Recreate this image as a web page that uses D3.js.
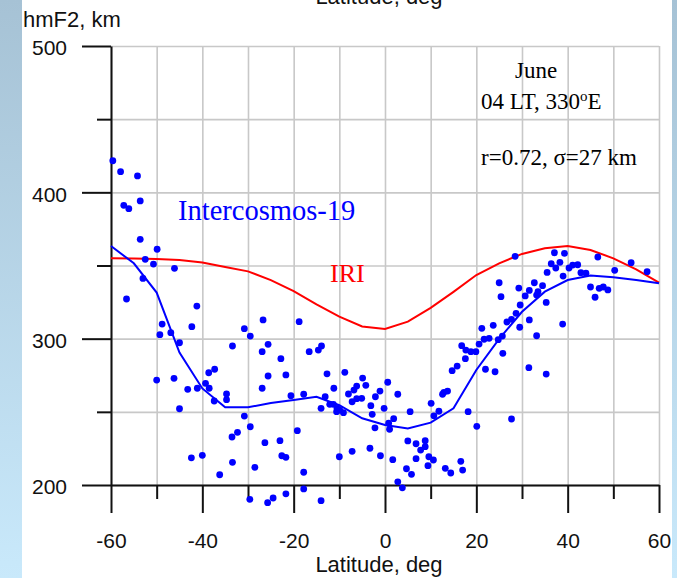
<!DOCTYPE html>
<html>
<head>
<meta charset="utf-8">
<script src="https://cdn.jsdelivr.net/npm/d3@7"></script>
<style>
  html, body { margin: 0; padding: 0; background: #fff; }
  svg { display: block; }
</style>
</head>
<body>
<svg id="chart" width="677" height="578"></svg>
<script>
// ---------- data ----------
const xTicks = [-60, -40, -20, 0, 20, 40, 60];
const xMinorTicks = [-50, -30, -10, 10, 30, 50];
const yTicks = [200, 300, 400, 500];
const yMinorTicks = [250, 350, 450];

const modelLat = [-60,-55,-50,-45,-40,-35,-30,-25,-20,-15,-10,-5,0,5,10,15,20,25,30,35,40,45,50,55,60];
const iriH = [355,354.8,354.5,353.8,352,349,346,340,332.5,323.5,315,308.3,306.6,311.6,321,332,343.5,351.5,357.9,361.8,363.3,360.6,354.9,347.4,338.3];
const ic19H = [363.3,351.5,331.5,290.5,266,253.1,253.1,256,258.1,260.3,254.5,245.6,241,238.7,242.6,252.4,278.6,299.8,318.4,332.1,340.1,343.1,342,340.1,337.8];

const obsLat = [-59.6,-57.9,-54.2,-57.2,-56.1,-53.6,-53.6,-49.9,-52.5,-50.7,-46.1,-53.0,-56.6,-41.2,-48.8,-42.3,-49.3,-46.9,-30.8,-29.5,-26.7,-18.8,
  -45.0,-33.4,-25.6,-26.9,-22.8,-50.0,-46.2,-38.6,-37.3,-39.3,-38.5,-41.1,-43.2,-37.4,-34.7,-34.7,-45.0,-25.6,-21.7,-26.9,-20.6,-30.8,-29.5,-33.5,-32.3,-26.3,-23.0,-19.2,-42.4,-40.0,-33.4,-36.2,-28.5,-22.6,-21.7,-29.6,-25.7,-24.5,-21.7,
  -16.6,-14.6,-13.9,-17.8,-12.7,-11.2,-13.1,-14.0,-12.1,-11.3,-10.5,-10.6,-9.9,-9.1,-8.8,-8.0,-6.8,-6.2,-4.9,-4.2,-7.2,-6.2,-5.1,-1.1,-2.1,-3.1,-2.8,-2.2,0.6,2.8,-0.2,0.8,1.9,1.0,5.5,10.1,11.8,10.7,5.0,6.8,7.8,8.8,8.8,6.8,9.6,10.6,9.4,13.2,14.4,16.6,17.0,18.2,20.1,-17.8,-17.8,-14.0,-10.0,-7.2,-3.3,-1.0,1.7,2.8,3.8,4.7,5.8,16.8,17.7,18.8,19.9,17.6,20.6,14.7,15.8,12.6,12.9,13.7,
  21.2,22.0,21.7,22.8,23.7,24.1,24.8,25.7,25.8,25.0,25.4,26.7,27.7,28.7,29.5,29.6,29.3,30.7,31.6,31.6,32.7,33.2,33.2,33.5,34.5,35.3,35.5,35.3,31.5,28.5,27.7,36.4,37.4,37.1,38.3,39.3,39.0,38.9,40.3,41.1,42.2,42.9,44.0,45.0,46.0,46.9,47.8,48.8,46.6,50.3,53.9,57.4];
const obsH = [421.6,414.1,411.2,391.1,388.8,394.1,367.9,361.1,354.2,351,348.1,341.2,327.1,322.3,310,308.2,302.7,304.1,306.8,301.8,312.8,311.6,
  297.2,295,296.1,291.1,286.3,271.7,272.9,276.7,279.1,269.5,266.1,266.1,265.4,257.4,262.2,258.3,252.1,274.5,275.2,266.1,261,247.1,239.8,232.8,236,228.9,230.3,237.1,218.6,220.3,215.5,207,212.1,220,218.9,190.2,187.9,191.1,194,
  291.1,292.2,295,262,276,266.1,260.3,252.4,255.1,255.1,252.4,250.1,251.2,249.4,277,262.2,264.9,267.6,273.1,268.1,256.9,259,259.2,264.2,260.3,254.2,248.3,239.1,270.2,262,252.4,242.2,245.3,238.1,250.1,255.8,250.4,247.3,230.1,228.2,223.9,230.3,226.2,218,219.3,217.1,213.2,211.4,208.2,216.2,210.2,250.1,240.1,208.7,197.3,189.3,219.3,223,225.1,220,217.3,202.2,198.1,211.1,207.3,295.2,292.2,291.1,291.1,286.3,296.3,278.1,281.3,262,263.3,264.2,
  307.1,279.1,299.6,300.2,309.1,277.4,299.3,301.8,290,338.2,328.7,311.4,313.2,317.3,307.8,323,334.6,329.2,312.8,333,338.2,302,329.8,332.1,336.2,324.8,345.3,275.8,280.2,356.3,245.1,351.2,348.3,358.7,352.2,358.3,342.8,310,348.3,350.3,350.5,345.1,344.7,335.3,328.3,334.4,335.3,333.3,355.8,346.7,351.9,345.8];

// ---------- drawing ----------
const W = 677, H = 578;
const svg = d3.select('#chart');

const defs = svg.append('defs');
const grad = defs.append('linearGradient').attr('id', 'bg').attr('x1', 0).attr('y1', 0).attr('x2', 0).attr('y2', 1);
grad.append('stop').attr('offset', '0%').attr('stop-color', '#a6c2d5');
grad.append('stop').attr('offset', '100%').attr('stop-color', '#c9e9fb');
svg.append('rect').attr('width', W).attr('height', H).attr('fill', 'url(#bg)');
svg.append('rect').attr('x', 22).attr('y', 0).attr('width', 650).attr('height', H).attr('fill', '#fff');

const x = d3.scaleLinear().domain([-60, 60]).range([111, 659]);
const y = d3.scaleLinear().domain([200, 500]).range([485, 46]);

const sans = 'Liberation Sans, Arial, sans-serif';
const serif = 'Liberation Serif, Times New Roman, serif';
const fmt = d => String(d);

// gridlines
const gridX = svg.append('g').attr('transform', `translate(0,${y(200)})`)
  .call(d3.axisBottom(x).tickValues(d3.merge([xTicks, xMinorTicks])).tickSize(-(y(200) - y(500))).tickFormat(''));
gridX.select('.domain').remove();
gridX.selectAll('line').attr('stroke', '#c8c8c8').attr('stroke-width', 1.6);
const gridY = svg.append('g').attr('transform', `translate(${x(-60)},0)`)
  .call(d3.axisLeft(y).tickValues(d3.merge([yTicks, yMinorTicks])).tickSize(-(x(60) - x(-60))).tickFormat(''));
gridY.select('.domain').remove();
gridY.selectAll('line').attr('stroke', '#c8c8c8').attr('stroke-width', 1.6);

// x axis
const xAxis = svg.append('g').attr('transform', `translate(0,${y(200)})`)
  .call(d3.axisBottom(x).tickValues(xTicks).tickFormat(fmt).tickSize(28).tickSizeOuter(0).tickPadding(20));
xAxis.select('.domain').attr('stroke', '#111').attr('stroke-width', 2);
xAxis.selectAll('line').attr('stroke', '#111').attr('stroke-width', 2);
xAxis.selectAll('text').attr('font-family', sans).attr('font-size', 21).attr('fill', '#111');
const xMinor = svg.append('g').attr('transform', `translate(0,${y(200)})`)
  .call(d3.axisBottom(x).tickValues(xMinorTicks).tickSize(14).tickFormat(''));
xMinor.select('.domain').remove();
xMinor.selectAll('line').attr('stroke', '#111').attr('stroke-width', 2);

// y axis
const yAxis = svg.append('g').attr('transform', `translate(${x(-60)},0)`)
  .call(d3.axisLeft(y).tickValues(yTicks).tickFormat(fmt).tickSize(29).tickSizeOuter(0).tickPadding(15));
yAxis.select('.domain').attr('stroke', '#111').attr('stroke-width', 2);
yAxis.selectAll('line').attr('stroke', '#111').attr('stroke-width', 2);
yAxis.selectAll('text').attr('font-family', sans).attr('font-size', 21).attr('fill', '#111').attr('dy', '0.42em');
const yMinor = svg.append('g').attr('transform', `translate(${x(-60)},0)`)
  .call(d3.axisLeft(y).tickValues(yMinorTicks).tickSize(14).tickFormat(''));
yMinor.select('.domain').remove();
yMinor.selectAll('line').attr('stroke', '#111').attr('stroke-width', 2);

// axis titles
svg.append('text').attr('x', 23).attr('y', 27).attr('font-family', sans).attr('font-size', 22).attr('fill', '#111').text('hmF2, km');
svg.append('text').attr('x', 379).attr('y', 572).attr('text-anchor', 'middle').attr('font-family', sans).attr('font-size', 22).attr('fill', '#111').text('Latitude, deg');
svg.append('text').attr('x', 379).attr('y', 4).attr('text-anchor', 'middle').attr('font-family', sans).attr('font-size', 22).attr('fill', '#111').text('Latitude, deg');

// lines
const line = d3.line().x((d, i) => x(modelLat[i])).y(d => y(d));
svg.append('path').datum(iriH).attr('d', line).attr('fill', 'none').attr('stroke', '#ff0000').attr('stroke-width', 2);
svg.append('path').datum(ic19H).attr('d', line).attr('fill', 'none').attr('stroke', '#0000ff').attr('stroke-width', 2);

// points
svg.append('g').selectAll('circle').data(obsLat).join('circle')
  .attr('cx', d => x(d)).attr('cy', (d, i) => y(obsH[i])).attr('r', 3.4).attr('fill', '#0000ff');

// annotations
svg.append('text').attr('x', 178).attr('y', 220).attr('font-family', serif).attr('font-size', 28.5).attr('fill', '#0000ff').text('Intercosmos-19');
svg.append('text').attr('x', 330).attr('y', 282).attr('font-family', serif).attr('font-size', 26).attr('fill', '#ff0000').text('IRI');
svg.append('text').attr('x', 515).attr('y', 78).attr('font-family', serif).attr('font-size', 23).attr('fill', '#000').text('June');
const t2 = svg.append('text').attr('x', 481).attr('y', 109).attr('font-family', serif).attr('font-size', 23).attr('fill', '#000');
t2.append('tspan').text('04 LT, 330');
t2.append('tspan').attr('font-size', 15).attr('dy', -8).text('o');
t2.append('tspan').attr('dy', 8).text('E');
svg.append('text').attr('x', 481).attr('y', 165).attr('font-family', serif).attr('font-size', 23).attr('fill', '#000').text('r=0.72, σ=27 km');
</script>
</body>
</html>
